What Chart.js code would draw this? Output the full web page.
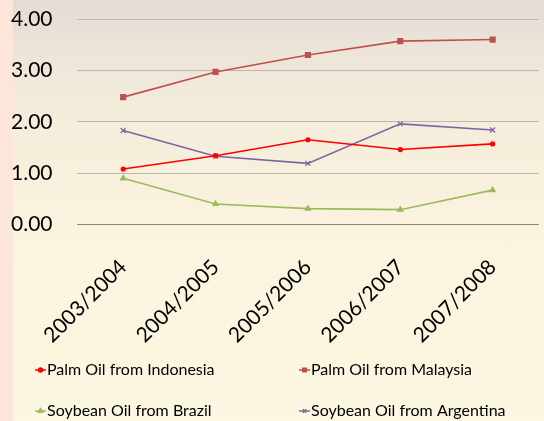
<!DOCTYPE html>
<html>
<head>
<meta charset="utf-8">
<script src="https://cdn.jsdelivr.net/npm/chart.js@4"></script>
<style>
  html, body { margin: 0; padding: 0; }
  body {
    width: 544px; height: 421px; overflow: hidden; position: relative;
    background: linear-gradient(to bottom, #e3dbd6 0px, #ebe3d8 40px, #f5eddb 120px, #fbf4df 250px, #fcf7e2 421px);
  }
  #strip { position: absolute; left: 0; top: 0; width: 13px; height: 421px; background: #fce6da; }
  #wrap { position: absolute; left: 0; top: 0; width: 544px; height: 421px; }
</style>
</head>
<body>
<div id="strip"></div>
<div id="wrap"><canvas id="oilChart" width="544" height="421"></canvas></div>
<script>
const seasons = ['2003/2004', '2004/2005', '2005/2006', '2006/2007', '2007/2008'];
const palmIndonesia = [1.08, 1.34, 1.65, 1.46, 1.57];
const palmMalaysia = [2.48, 2.97, 3.30, 3.57, 3.60];
const soyBrazil = [0.90, 0.40, 0.31, 0.29, 0.67];
const soyArgentina = [1.83, 1.33, 1.19, 1.96, 1.84];
const yTicks = [0, 1, 2, 3, 4];

const font = 'Lato, "Open Sans", sans-serif';

function series(label, data, color, style, radius) {
  return {
    label: label,
    data: data,
    borderColor: color,
    backgroundColor: color,
    borderWidth: 1.6,
    pointStyle: style,
    pointRadius: radius,
    pointBorderWidth: 1.2,
    tension: 0
  };
}

// legend drawn at fixed spots, two columns like the original
const legendPlugin = {
  id: 'gridLegend',
  afterDraw(chart) {
    const ctx = chart.ctx;
    const spots = [[35, 370], [299, 370], [35, 411], [299, 411]];
    chart.data.datasets.forEach((ds, i) => {
      const [x, y] = spots[i];
      ctx.save();
      ctx.strokeStyle = ds.borderColor;
      ctx.lineWidth = 1.5;
      ctx.beginPath();
      ctx.moveTo(x, y);
      ctx.lineTo(x + 11, y);
      ctx.stroke();
      Chart.helpers.drawPoint(ctx, {
        pointStyle: ds.pointStyle, radius: Math.min(ds.pointRadius, 2.5), borderWidth: 1
      }, x + 5.5, y);
      ctx.fillStyle = ds.borderColor;
      ctx.fill();
      ctx.fillStyle = '#000';
      ctx.font = '16px ' + font;
      ctx.textBaseline = 'middle';
      ctx.textAlign = 'left';
      ctx.fillText(ds.label, x + 12, y);
      ctx.restore();
    });
  }
};

new Chart(document.getElementById('oilChart').getContext('2d'), {
  type: 'line',
  data: {
    labels: seasons,
    datasets: [
      series('Palm Oil from Indonesia', palmIndonesia, '#ff0000', 'circle', 2),
      series('Palm Oil from Malaysia', palmMalaysia, '#c0504d', 'rect', 3.5),
      series('Soybean Oil from Brazil', soyBrazil, '#9bbb59', 'triangle', 3),
      series('Soybean Oil from Argentina', soyArgentina, '#8064a2', 'crossRot', 3.5)
    ]
  },
  options: {
    responsive: false,
    animation: false,
    layout: { padding: { top: 19, right: 0, bottom: 51, left: 11 } },
    plugins: { legend: { display: false }, tooltip: { enabled: false } },
    scales: {
      x: {
        offset: true,
        grid: { display: false },
        border: { color: '#8a8580', width: 1 },
        ticks: {
          color: '#000',
          font: { family: font, size: 21 },
          minRotation: 45,
          maxRotation: 45,
          padding: 22
        },
        afterFit(scale) {
          // let the plot run to the right edge like the original
          scale.paddingRight = 0;
          if (scale._margins) scale._margins.right = 0;
        }
      },
      y: {
        min: 0,
        max: 4,
        afterBuildTicks(scale) { scale.ticks = yTicks.map(v => ({ value: v })); },
        grid: { color: '#bdb6b0', drawTicks: false },
        border: { display: false },
        ticks: {
          color: '#000',
          font: { family: font, size: 21 },
          padding: 0,
          crossAlign: 'far',
          callback: v => v.toFixed(2)
        },
        afterFit(scale) { scale.width = 66; }
      }
    }
  },
  plugins: [legendPlugin]
});
</script>
</body>
</html>
